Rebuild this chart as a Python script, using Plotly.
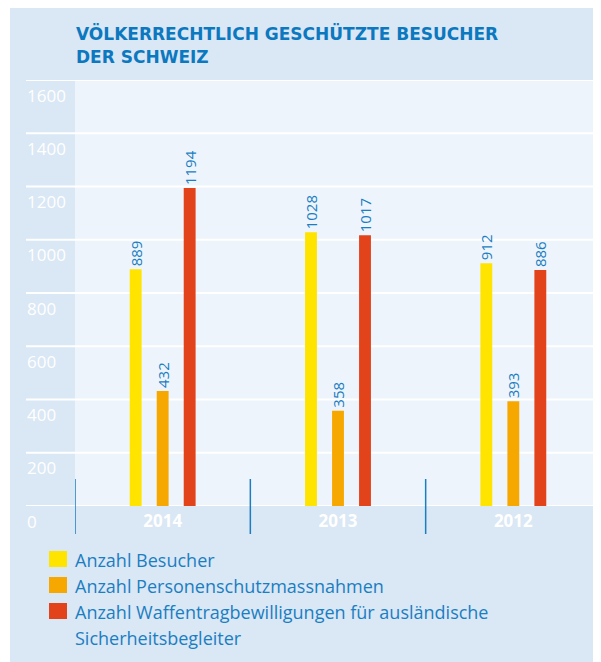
import plotly.graph_objects as go

# ---- data ----
years = ["2014", "2013", "2012"]
series_names = ["Anzahl Besucher",
                "Anzahl Personenschutzmassnahmen",
                "Anzahl Waffentragbewilligungen für ausländische<br>Sicherheitsbegleiter"]
besucher = [889, 1028, 912]
personenschutz = [432, 358, 393]
waffentrag = [1194, 1017, 886]
series_values = [besucher, personenschutz, waffentrag]
series_colors = ["#ffe400", "#f7a800", "#e2431a"]
y_ticks = [0, 200, 400, 600, 800, 1000, 1200, 1400, 1600]
title_text = "VÖLKERRECHTLICH GESCHÜTZTE BESUCHER<br>DER SCHWEIZ"

# ---- layout helpers (page pixels; the page body has an 8px margin) ----
W, H = 601, 662
OX, OY = 8, 8
PLOT_LEFT, PLOT_TOP, PLOT_BOTTOM, PLOT_RIGHT = 75, 80, 506, 601
L = PLOT_LEFT - OX
T = PLOT_TOP - OY
B = H - (PLOT_BOTTOM - OY)
R = W - (PLOT_RIGHT - OX)
pw = W - L - R
ph = H - T - B

def px_x(x):
    return (x - OX - L) / pw

def px_y(y):
    return (PLOT_BOTTOM - y) / ph

PANEL = "#dae7f4"
PLOT_BG = "#eef4fb"
BLUE = "#1a7ec2"
TITLE_BLUE = "#0b78bf"
FONT = "Open Sans"

fig = go.Figure()
for name, vals, col in zip(series_names, series_values, series_colors):
    fig.add_trace(go.Bar(
        x=years, y=vals, name=name, marker=dict(color=col, line=dict(width=0)),
        text=[str(v) for v in vals], textposition="outside", textangle=-90,
        constraintext="none",
        textfont=dict(family=FONT, size=15, color=BLUE),
        cliponaxis=False, showlegend=False,
    ))

shapes = []
# outer panel
shapes.append(dict(type="rect", xref="paper", yref="paper", layer="below",
                   x0=px_x(10), x1=px_x(W + 20), y0=px_y(8), y1=px_y(H + 20),
                   fillcolor=PANEL, line=dict(width=0)))
# light plot area
shapes.append(dict(type="rect", xref="paper", yref="y", layer="below",
                   x0=0, x1=1.05, y0=0, y1=y_ticks[-1] + 12,
                   fillcolor=PLOT_BG, line=dict(width=0)))
# gridlines extending into left margin
for v in y_ticks:
    shapes.append(dict(type="line", xref="paper", yref="y", layer="below",
                       x0=px_x(26), x1=1.05, y0=v, y1=v,
                       line=dict(color="white", width=2)))
# category separators
for i in range(len(years)):
    shapes.append(dict(type="line", xref="x", yref="paper", layer="above",
                       x0=i - 0.5, x1=i - 0.5, y0=px_y(479), y1=px_y(534),
                       line=dict(color=BLUE, width=1.5)))

annotations = []
# y tick labels below gridlines
for v in y_ticks:
    annotations.append(dict(xref="paper", yref="y", x=px_x(25), y=v,
                            xanchor="left", yanchor="middle", yshift=-15,
                            text=str(v), showarrow=False,
                            font=dict(family=FONT, size=17, color="white")))
# title (one annotation per line for tighter line spacing)
for k, line in enumerate(title_text.split("<br>")):
    annotations.append(dict(xref="paper", yref="paper", x=px_x(74),
                            y=px_y(33 + 24 * k), xanchor="left",
                            yanchor="middle", align="left",
                            text="<b>" + line + "</b>", showarrow=False,
                            font=dict(family="DejaVu Sans", size=17,
                                      color=TITLE_BLUE)))
# legend (manual)
row = 0
for name, col in zip(series_names, series_colors):
    yc = 559 + 26 * row
    shapes.append(dict(type="rect", xref="paper", yref="paper", layer="above",
                       x0=px_x(49), x1=px_x(67), y0=px_y(yc - 8), y1=px_y(yc + 8),
                       fillcolor=col, line=dict(width=0)))
    for line in name.split("<br>"):
        annotations.append(dict(xref="paper", yref="paper", x=px_x(73),
                                y=px_y(560 + 26 * row), xanchor="left",
                                yanchor="middle", text=line, showarrow=False,
                                font=dict(family=FONT, size=18, color=BLUE)))
        row += 1

fig.update_layout(
    width=W, height=H,
    margin=dict(l=L, r=R, t=T, b=B, pad=0),
    paper_bgcolor="white", plot_bgcolor="rgba(0,0,0,0)",
    barmode="group", bargap=0.538, bargroupgap=0.56,
    shapes=shapes, annotations=annotations,
    xaxis=dict(range=[-0.5, 2.5], showgrid=False, zeroline=False,
               showline=False, ticks="", ticklabelstandoff=3,
               tickfont=dict(family=FONT, size=17, color="white", weight="bold")),
    yaxis=dict(range=[0, 1600], showgrid=False, zeroline=False,
               showticklabels=False, tickvals=y_ticks),
    font=dict(family=FONT),
)

fig.write_html("out.html")
